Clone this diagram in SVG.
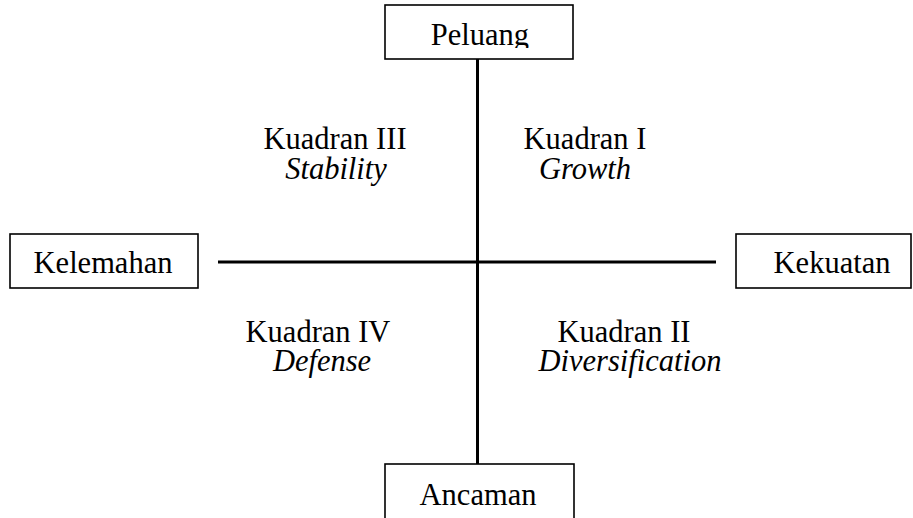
<svg xmlns="http://www.w3.org/2000/svg" width="913" height="518" viewBox="0 0 913 518">
  <style>
    .box { fill: #ffffff; stroke: #000000; stroke-width: 1.6; }
    .axis { stroke: #000000; stroke-width: 3; fill: none; }
    .t { font-family: 'Liberation Serif', 'DejaVu Serif', serif; font-size: 30.5px; fill: #000000; text-anchor: middle; }
    .it { font-style: italic; }
  </style>
  <defs>
    <clipPath id="clipPeluang">
      <rect x="385" y="5" width="188" height="43"/>
    </clipPath>
  </defs>
  <rect x="0" y="0" width="913" height="518" fill="#ffffff"/>
  <g id="connectors">
    <line class="axis" x1="477.5" y1="59" x2="477.5" y2="464"/>
    <line class="axis" x1="218" y1="262" x2="716" y2="262"/>
  </g>
  <g id="peluang">
    <rect class="box" x="385" y="5" width="188" height="54"/>
    <text class="t" font-family="Liberation Serif" x="480" y="45" clip-path="url(#clipPeluang)">Peluang</text>
  </g>
  <g id="kelemahan">
    <rect class="box" x="10" y="234" width="188" height="54"/>
    <text class="t" font-family="Liberation Serif" x="103" y="273">Kelemahan</text>
  </g>
  <g id="kekuatan">
    <rect class="box" x="736" y="234" width="175" height="54"/>
    <text class="t" font-family="Liberation Serif" x="832" y="273">Kekuatan</text>
  </g>
  <g id="ancaman">
    <rect class="box" x="385" y="464" width="189" height="70"/>
    <text class="t" font-family="Liberation Serif" x="478" y="505">Ancaman</text>
  </g>
  <g id="kuadran3">
    <text class="t" font-family="Liberation Serif" x="335" y="149">Kuadran III</text>
    <text class="t it" font-family="Liberation Serif" x="336" y="179">Stability</text>
  </g>
  <g id="kuadran1">
    <text class="t" font-family="Liberation Serif" x="585" y="149">Kuadran I</text>
    <text class="t it" font-family="Liberation Serif" x="585" y="179">Growth</text>
  </g>
  <g id="kuadran4">
    <text class="t" font-family="Liberation Serif" x="318" y="342">Kuadran IV</text>
    <text class="t it" font-family="Liberation Serif" x="322" y="371">Defense</text>
  </g>
  <g id="kuadran2">
    <text class="t" font-family="Liberation Serif" x="624" y="342">Kuadran II</text>
    <text class="t it" font-family="Liberation Serif" x="630" y="371">Diversification</text>
  </g>
</svg>
